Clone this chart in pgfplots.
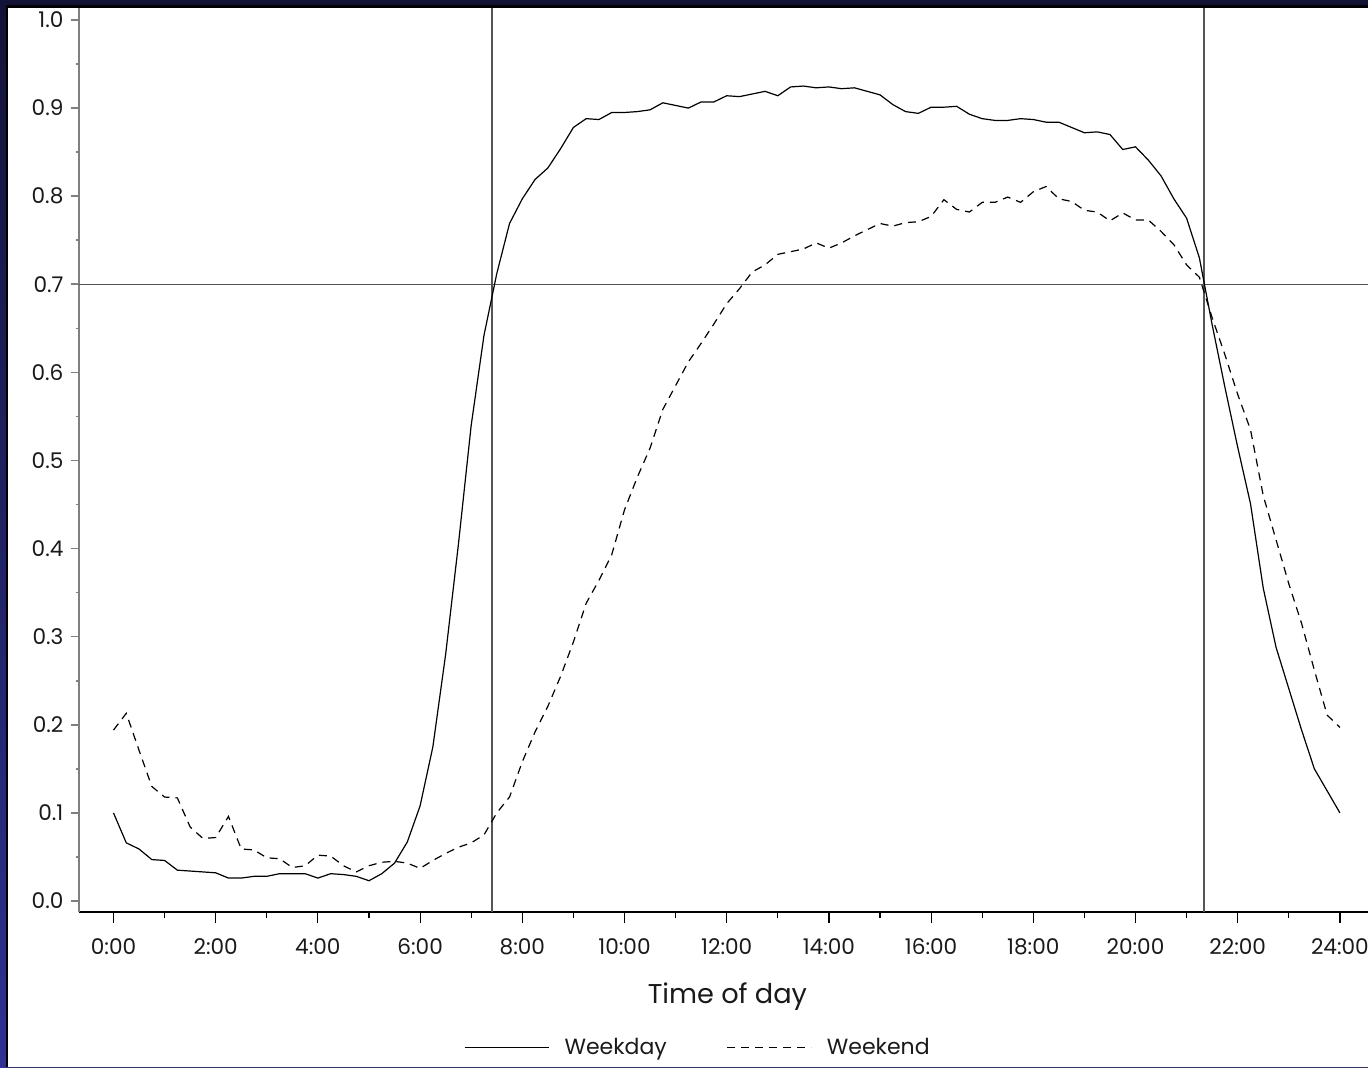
\documentclass[border=0pt]{standalone}
\usepackage{pgfplots}
\pgfplotsset{compat=1.18}
\usepackage{fontspec}
\setmainfont{Poppins}
\definecolor{navy}{HTML}{131338}
\definecolor{slideblue}{HTML}{2E3192}
\definecolor{txt}{HTML}{1A1A1A}
\definecolor{refl}{HTML}{555555}
\begin{document}
\begin{tikzpicture}
\begin{scope}[x=0.5pt,y=0.5pt]
\clip (0,0) rectangle (1368,1067);
\shade[top color=navy, bottom color=slideblue] (0,0) rectangle (1368,1067);
\fill[navy] (0,1062) rectangle (1368,1067);
\fill[black] (6,0) rectangle (1368,1062);
\fill[white] (8,0) rectangle (1368,1059);
\end{scope}
\begin{axis}[
  at={(39.5pt,77.5pt)}, anchor=south west,
  scale only axis, width=644.5pt, height=452pt,
  xmin=-0.675, xmax=24.55, ymin=-0.0125, ymax=1.0136,
  axis x line*=bottom, axis y line*=left,
  x axis line style={-, black, line width=0.75pt},
  y axis line style={-, gray, line width=1pt},
  tick align=outside,
  xtick={0,2,4,6,8,10,12,14,16,18,20,22,24},
  xticklabels={0:00,2:00,4:00,6:00,8:00,10:00,12:00,14:00,16:00,18:00,20:00,22:00,24:00},
  minor xtick={1,3,5,7,9,11,13,15,17,19,21,23},
  ytick={0,0.1,0.2,0.3,0.4,0.5,0.6,0.7,0.8,0.9,1.0},
  minor ytick={0.05,0.15,0.25,0.35,0.45,0.55,0.65,0.75,0.85,0.95},
  xtick style={black, line width=0.6pt, /pgfplots/major tick length=5.5pt, /pgfplots/minor tick length=3pt},
  ytick style={gray, line width=0.8pt, /pgfplots/major tick length=4pt, /pgfplots/minor tick length=1.5pt},
  yticklabel style={/pgf/number format/.cd, fixed, fixed zerofill, precision=1, assume math mode=true},
  ticklabel style={font=\fontsize{10.8}{12}\selectfont, text=txt},
  xticklabel style={yshift=-5.5pt},
  xlabel={Time of day},
  xlabel style={font=\fontsize{13.6}{15}\selectfont, text=txt, at={(axis description cs:0.503,-0.094)}, anchor=center},
  legend columns=2,
  legend style={draw=none, fill=none, at={(0.481,-0.150)}, anchor=center, font=\fontsize{11}{13}\selectfont, text=txt,
    /tikz/every odd column/.append style={column sep=5.5pt},
    /tikz/every even column/.append style={column sep=28pt}},
  legend image code/.code={\draw[#1] (0pt,0pt) -- (42pt,0pt);},
]
\addplot[forget plot, refl, line width=0.7pt] coordinates {(7.41,-0.0125) (7.41,1.0136)};
\addplot[forget plot, refl, line width=0.7pt] coordinates {(21.34,-0.0125) (21.34,1.0136)};
\addplot[forget plot, refl, line width=0.7pt] coordinates {(-0.675,0.7) (24.55,0.7)};
\addplot[black, line width=0.6pt] table {
0.00 0.100
0.25 0.066
0.50 0.059
0.75 0.047
1.00 0.046
1.25 0.035
1.50 0.034
1.75 0.033
2.00 0.032
2.25 0.026
2.50 0.026
2.75 0.028
3.00 0.028
3.25 0.031
3.50 0.031
3.75 0.031
4.00 0.026
4.25 0.031
4.50 0.030
4.75 0.028
5.00 0.023
5.25 0.031
5.50 0.043
5.75 0.067
6.00 0.108
6.25 0.175
6.50 0.280
6.75 0.405
7.00 0.540
7.25 0.642
7.50 0.712
7.75 0.769
8.00 0.797
8.25 0.819
8.50 0.832
8.75 0.854
9.00 0.878
9.25 0.888
9.50 0.887
9.75 0.895
10.00 0.895
10.25 0.896
10.50 0.898
10.75 0.906
11.00 0.903
11.25 0.900
11.50 0.907
11.75 0.907
12.00 0.914
12.25 0.913
12.50 0.916
12.75 0.919
13.00 0.914
13.25 0.924
13.50 0.925
13.75 0.923
14.00 0.924
14.25 0.922
14.50 0.923
14.75 0.919
15.00 0.915
15.25 0.904
15.50 0.896
15.75 0.894
16.00 0.901
16.25 0.901
16.50 0.902
16.75 0.893
17.00 0.888
17.25 0.886
17.50 0.886
17.75 0.888
18.00 0.887
18.25 0.884
18.50 0.884
18.75 0.878
19.00 0.872
19.25 0.873
19.50 0.870
19.75 0.853
20.00 0.856
20.25 0.841
20.50 0.823
20.75 0.797
21.00 0.775
21.25 0.730
21.50 0.654
21.75 0.583
22.00 0.515
22.25 0.451
22.50 0.355
22.75 0.288
23.00 0.241
23.25 0.194
23.50 0.150
23.75 0.125
24.00 0.100
};
\addlegendentry{Weekday}
\addplot[black, line width=0.6pt, dash pattern=on 4pt off 3pt] table {
0.00 0.194
0.25 0.213
0.50 0.171
0.75 0.130
1.00 0.118
1.25 0.117
1.50 0.084
1.75 0.071
2.00 0.072
2.25 0.096
2.50 0.059
2.75 0.058
3.00 0.049
3.25 0.048
3.50 0.038
3.75 0.040
4.00 0.052
4.25 0.051
4.50 0.040
4.75 0.033
5.00 0.040
5.25 0.044
5.50 0.045
5.75 0.043
6.00 0.037
6.25 0.046
6.50 0.054
6.75 0.061
7.00 0.066
7.25 0.075
7.50 0.100
7.75 0.118
8.00 0.158
8.25 0.192
8.50 0.221
8.75 0.255
9.00 0.294
9.25 0.338
9.50 0.364
9.75 0.393
10.00 0.444
10.25 0.481
10.50 0.514
10.75 0.558
11.00 0.585
11.25 0.612
11.50 0.633
11.75 0.655
12.00 0.678
12.25 0.695
12.50 0.714
12.75 0.722
13.00 0.734
13.25 0.737
13.50 0.740
13.75 0.747
14.00 0.741
14.25 0.747
14.50 0.755
14.75 0.762
15.00 0.769
15.25 0.766
15.50 0.770
15.75 0.771
16.00 0.777
16.25 0.796
16.50 0.785
16.75 0.782
17.00 0.793
17.25 0.793
17.50 0.799
17.75 0.793
18.00 0.805
18.25 0.811
18.50 0.797
18.75 0.794
19.00 0.784
19.25 0.782
19.50 0.772
19.75 0.781
20.00 0.773
20.25 0.773
20.50 0.760
20.75 0.745
21.00 0.722
21.25 0.708
21.50 0.662
21.75 0.620
22.00 0.575
22.25 0.535
22.50 0.460
22.75 0.410
23.00 0.360
23.25 0.315
23.50 0.262
23.75 0.211
24.00 0.197
};
\addlegendentry{Weekend}
\end{axis}
\pgfresetboundingbox
\path (0,0) rectangle (684pt,533.5pt);
\end{tikzpicture}
\end{document}
